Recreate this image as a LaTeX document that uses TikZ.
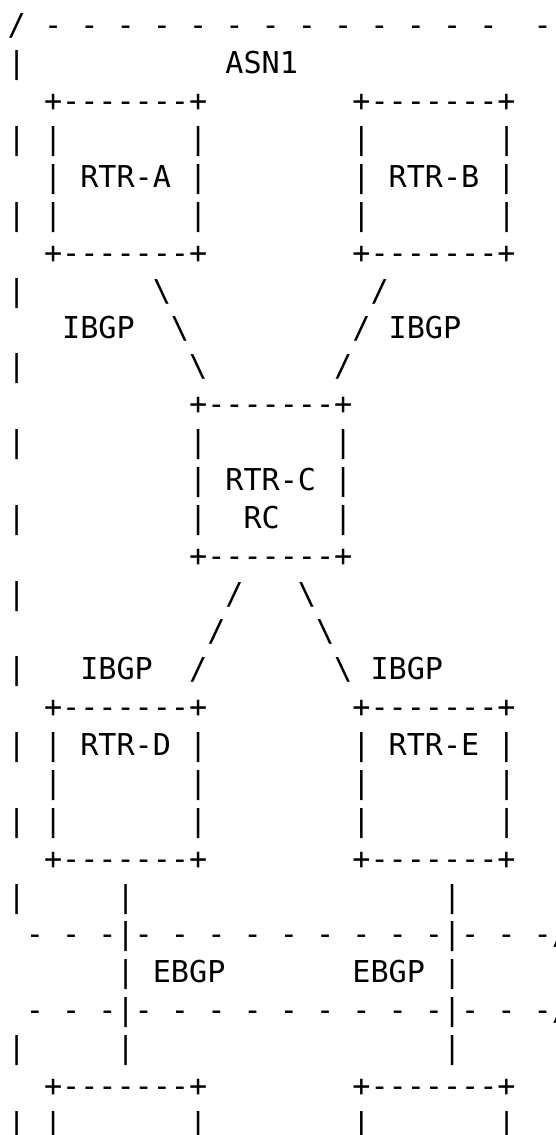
\documentclass[tikz,border=0pt]{standalone}
\usepackage{fontspec}
\setmonofont{DejaVu Sans Mono}
\newcommand\asciifont{\ttfamily\fontsize{30.13pt}{37.875pt}\selectfont}
\newcommand\bs{\textbackslash}
\tikzset{
  row/.style={anchor=base west, inner sep=0pt, outer sep=0pt, font=\asciifont, text=black},
}
\begin{document}
\begin{tikzpicture}[x=1pt,y=-1pt]
\fill[white] (0,0) rectangle (555,1135);
\useasboundingbox (0,0) rectangle (555,1135);
\clip (0,0) rectangle (555,1135);
\node[row] (r1)  at (7.73,35.87)   {/~-~-~-~-~-~-~-~-~-~-~-~-~-~~-};
\node[row] (r2)  at (7.73,73.75)   {|~~~~~~~~~~~ASN1};
\node[row] (r3)  at (7.73,111.62)  {~~+-------+~~~~~~~~+-------+};
\node[row] (r4)  at (7.73,149.50)  {|~|~~~~~~~|~~~~~~~~|~~~~~~~|};
\node[row] (r5)  at (7.73,187.37)  {~~|~RTR-A~|~~~~~~~~|~RTR-B~|};
\node[row] (r6)  at (7.73,225.25)  {|~|~~~~~~~|~~~~~~~~|~~~~~~~|};
\node[row] (r7)  at (7.73,263.12)  {~~+-------+~~~~~~~~+-------+};
\node[row] (r8)  at (7.73,301.00)  {|~~~~~~~\bs~~~~~~~~~~~/};
\node[row] (r9)  at (7.73,338.87)  {~~~IBGP~~\bs~~~~~~~~~/~IBGP};
\node[row] (r10) at (7.73,376.75)  {|~~~~~~~~~\bs~~~~~~~/};
\node[row] (r11) at (7.73,414.62)  {~~~~~~~~~~+-------+};
\node[row] (r12) at (7.73,452.50)  {|~~~~~~~~~|~~~~~~~|};
\node[row] (r13) at (7.73,490.37)  {~~~~~~~~~~|~RTR-C~|};
\node[row] (r14) at (7.73,528.25)  {|~~~~~~~~~|~~RC~~~|};
\node[row] (r15) at (7.73,566.12)  {~~~~~~~~~~+-------+};
\node[row] (r16) at (7.73,604.00)  {|~~~~~~~~~~~/~~~\bs};
\node[row] (r17) at (7.73,641.87)  {~~~~~~~~~~~/~~~~~\bs};
\node[row] (r18) at (7.73,679.75)  {|~~~IBGP~~/~~~~~~~\bs~IBGP};
\node[row] (r19) at (7.73,717.62)  {~~+-------+~~~~~~~~+-------+};
\node[row] (r20) at (7.73,755.50)  {|~|~RTR-D~|~~~~~~~~|~RTR-E~|};
\node[row] (r21) at (7.73,793.37)  {~~|~~~~~~~|~~~~~~~~|~~~~~~~|};
\node[row] (r22) at (7.73,831.25)  {|~|~~~~~~~|~~~~~~~~|~~~~~~~|};
\node[row] (r23) at (7.73,869.12)  {~~+-------+~~~~~~~~+-------+};
\node[row] (r24) at (7.73,907.00)  {|~~~~~|~~~~~~~~~~~~~~~~~|};
\node[row] (r25) at (7.73,944.87)  {~-~-~-|-~-~-~-~-~-~-~-~-|-~-~-/};
\node[row] (r26) at (7.73,982.75)  {~~~~~~|~EBGP~~~~~~~EBGP~|};
\node[row] (r27) at (7.73,1020.62) {~-~-~-|-~-~-~-~-~-~-~-~-|-~-~-/};
\node[row] (r28) at (7.73,1058.50) {|~~~~~|~~~~~~~~~~~~~~~~~|};
\node[row] (r29) at (7.73,1096.37) {~~+-------+~~~~~~~~+-------+};
\node[row] (r30) at (7.73,1134.25) {|~|~~~~~~~|~~~~~~~~|~~~~~~~|};
\end{tikzpicture}
\end{document}
